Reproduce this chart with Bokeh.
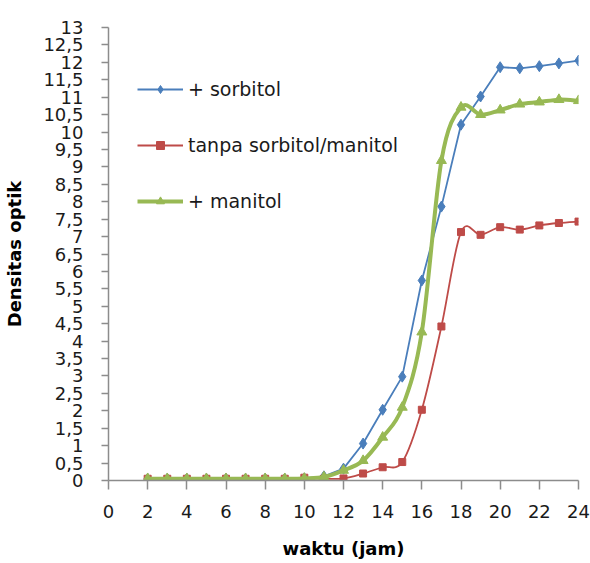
import numpy as np
from bokeh.plotting import figure
from bokeh.models import FixedTicker, Legend, LegendItem
from bokeh.embed import file_html
from bokeh.resources import INLINE

hours = [2, 3, 4, 5, 6, 7, 8, 9, 10, 11, 12, 13, 14, 15, 16, 17, 18, 19, 20, 21, 22, 23, 24]
sorbitol = [0.05, 0.05, 0.05, 0.05, 0.05, 0.05, 0.05, 0.05, 0.06, 0.12, 0.34, 1.06, 2.03, 2.98,
            5.74, 7.86, 10.21, 11.02, 11.86, 11.83, 11.89, 11.97, 12.05]
tanpa = [0.05, 0.05, 0.05, 0.05, 0.05, 0.05, 0.05, 0.05, 0.08, 0.05, 0.06, 0.2, 0.38, 0.53,
         2.03, 4.42, 7.13, 7.05, 7.27, 7.2, 7.32, 7.39, 7.43]
manitol = [0.05, 0.05, 0.05, 0.05, 0.05, 0.05, 0.05, 0.05, 0.06, 0.1, 0.29, 0.57, 1.24, 2.1,
           4.26, 9.18, 10.71, 10.5, 10.63, 10.8, 10.86, 10.93, 10.9]

series_names = ["+ sorbitol", "tanpa sorbitol/manitol", "+ manitol"]
x_ticks = [0, 2, 4, 6, 8, 10, 12, 14, 16, 18, 20, 22, 24]
y_ticks = [i * 0.5 for i in range(27)]
y_tick_labels = ["0", "0,5", "1", "1,5", "2", "2,5", "3", "3,5", "4", "4,5", "5", "5,5", "6", "6,5",
                 "7", "7,5", "8", "8,5", "9", "9,5", "10", "10,5", "11", "11,5", "12", "12,5", "13"]

BLUE = "#4A7EBB"
RED = "#BE4B48"
GREEN = "#98B954"
FONT = "DejaVu Sans"


def smooth_segments(x, y):
    x = np.asarray(x, float)
    y = np.asarray(y, float)
    n = len(x)
    xp = np.concatenate([[x[0]], x, [x[-1]]])
    yp = np.concatenate([[y[0]], y, [y[-1]]])
    seg = dict(x0=[], y0=[], x1=[], y1=[], cx0=[], cy0=[], cx1=[], cy1=[])
    for i in range(n - 1):
        p0x, p0y = xp[i], yp[i]
        p1x, p1y = xp[i + 1], yp[i + 1]
        p2x, p2y = xp[i + 2], yp[i + 2]
        p3x, p3y = xp[i + 3], yp[i + 3]
        seg["x0"].append(p1x); seg["y0"].append(p1y)
        seg["x1"].append(p2x); seg["y1"].append(p2y)
        seg["cx0"].append(p1x + (p2x - p0x) / 6.0); seg["cy0"].append(p1y + (p2y - p0y) / 6.0)
        seg["cx1"].append(p2x - (p3x - p1x) / 6.0); seg["cy1"].append(p2y - (p3y - p1y) / 6.0)
    return seg


p = figure(width=590, height=563, x_range=(0, 24), y_range=(0, 13),
           output_backend="svg", toolbar_location=None,
           min_border_left=108, min_border_right=12, min_border_top=27, min_border_bottom=83)
p.outline_line_color = None
p.xgrid.grid_line_color = None
p.ygrid.grid_line_color = None
p.background_fill_color = "white"
p.border_fill_color = "white"

# series
r_b_line = p.line(hours, sorbitol, line_color=BLUE, line_width=1.8)
r_b_pts = p.scatter(hours, sorbitol, marker="diamond", size=11, fill_color=BLUE, line_color=BLUE)

seg_r = smooth_segments(hours, tanpa)
r_r_line = p.bezier(line_color=RED, line_width=1.8, **seg_r)
r_r_pts = p.scatter(hours, tanpa, marker="square", size=7, fill_color=RED, line_color=RED)

seg_g = smooth_segments(hours, manitol)
r_g_line = p.bezier(line_color=GREEN, line_width=4, **seg_g)
r_g_pts = p.scatter(hours, manitol, marker="triangle", size=10, fill_color=GREEN, line_color=GREEN)

# legend glyph proxies (line + marker)
lg_b = p.line([None], [None], line_color=BLUE, line_width=1.8)
lg_r = p.line([None], [None], line_color=RED, line_width=1.8)
lg_g = p.line([None], [None], line_color=GREEN, line_width=4)

legend = Legend(items=[
    LegendItem(label=series_names[0], renderers=[lg_b, r_b_pts]),
    LegendItem(label=series_names[1], renderers=[lg_r, r_r_pts]),
    LegendItem(label=series_names[2], renderers=[lg_g, r_g_pts]),
], location=(29, 268))
legend.glyph_width = 46
legend.glyph_height = 20
legend.label_height = 20
legend.spacing = 34
legend.padding = 0
legend.margin = 0
legend.label_standoff = 5
legend.border_line_alpha = 0
legend.background_fill_alpha = 0
legend.label_text_font = FONT
legend.label_text_font_size = "19px"
legend.label_text_color = "#1a1a1a"
p.add_layout(legend, "center")

# axes
AX = "#8c8c8c"
p.xaxis.ticker = FixedTicker(ticks=x_ticks)
p.yaxis.ticker = FixedTicker(ticks=y_ticks)
p.yaxis.major_label_overrides = {t: lab for t, lab in zip(y_ticks, y_tick_labels)}
for ax in (p.xaxis, p.yaxis):
    ax.axis_line_color = AX
    ax.axis_line_width = 1.5
    ax.major_tick_line_color = AX
    ax.major_tick_line_width = 1.5
    ax.minor_tick_line_color = None
    ax.major_tick_in = 0
    ax.major_label_text_font = FONT
    ax.major_label_text_font_size = "18px"
    ax.major_label_text_color = "#1a1a1a"
    ax.axis_label_text_font = FONT
    ax.axis_label_text_font_size = "18px"
    ax.axis_label_text_font_style = "bold"
    ax.axis_label_text_color = "#000000"

p.xaxis.major_tick_out = 9
p.xaxis.major_label_standoff = 15
p.xaxis.axis_label = "waktu (jam)"
p.xaxis.axis_label_standoff = 17

p.yaxis.major_tick_out = 7
p.yaxis.major_label_standoff = 18
p.yaxis.axis_label = "Densitas optik"
p.yaxis.axis_label_standoff = 15

open("out.html", "w").write(file_html(p, INLINE))
